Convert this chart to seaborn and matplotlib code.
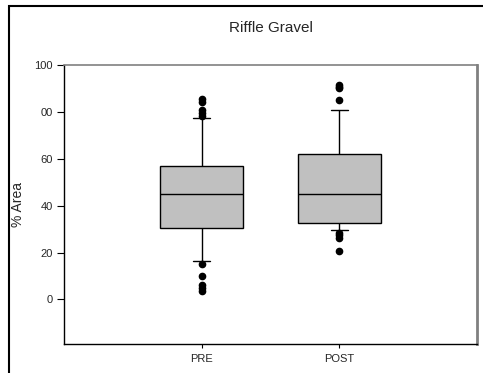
import matplotlib
matplotlib.use("Agg")
import matplotlib.pyplot as plt
import matplotlib.patches as mpatches
import seaborn as sns
import pandas as pd

categories = ["PRE", "POST"]

pre_values = [3.5, 5, 6, 9.8, 15.3, 16.2,
              18, 20, 22, 24.5, 26, 28, 30, 31,
              32, 33.5, 35, 36, 37.5, 39, 40, 41.5, 42.5, 43.5, 44.5,
              45,
              46, 47, 48, 49, 50, 51, 52, 53, 54, 55, 56, 56.5, 57.5,
              60, 63, 66, 69, 72, 75, 77.6,
              78.3, 79.4, 81, 84.3, 85.4]

post_values = [20.6, 26.2, 27.3, 28.4, 29.6,
               30, 30.8, 31.3, 31.8, 32.2, 32.6,
               34, 35.5, 37, 38.5, 40, 41, 42, 43, 44,
               45,
               46.5, 48, 50, 52, 54, 56, 58, 59.5, 61, 62.0,
               64, 67, 70, 74, 77, 80.7,
               85.1, 90.2, 90.8, 91.3]

y_ticks = [0, 20, 40, 60, 80, 100]
y_tick_labels = ["0", "20", "40", "60", "00", "100"]

df = pd.DataFrame({
    "group": [categories[0]] * len(pre_values) + [categories[1]] * len(post_values),
    "value": pre_values + post_values,
})

sns.set_style("white")
plt.rcParams["font.family"] = ["Liberation Sans", "DejaVu Sans"]

fig = plt.figure(figsize=(4.83, 3.73), dpi=100)
ax = fig.add_axes([64 / 483, 1 - 344 / 373, 413 / 483, 279 / 373])

sns.boxplot(data=df, x="group", y="value", order=categories, ax=ax,
            whis=[10, 90], width=0.6, color="#c0c0c0", saturation=1,
            linecolor="black", linewidth=1.0, capwidths=0.12,
            flierprops=dict(marker="o", markerfacecolor="black",
                            markeredgecolor="black", markersize=4.5))

ax.set_xlim(-1, 2)
ax.set_ylim(-19, 100)
ax.set_yticks(y_ticks)
ax.set_yticklabels(y_tick_labels)
ax.set_xlabel("")
ax.set_ylabel("% Area", fontsize=10)
ax.yaxis.set_label_coords(-0.094, 0.5)
ax.set_title("Riffle Gravel", fontsize=11, pad=24)

ax.tick_params(axis="y", direction="out", length=5, width=0.8, labelsize=8,
               color="black", left=True, pad=3)
ax.tick_params(axis="x", direction="out", length=3, width=0.8, labelsize=8,
               color="black", bottom=True, pad=4)

for side in ["left", "bottom"]:
    ax.spines[side].set_color("black")
    ax.spines[side].set_linewidth(1.0)
ax.spines["top"].set_color("#808080")
ax.spines["top"].set_linewidth(1.2)
ax.spines["right"].set_color("#808080")
ax.spines["right"].set_linewidth(2.0)

border = mpatches.Rectangle((9 / 483, -0.05), 1.2, 1 - 6 / 373 + 0.05,
                            transform=fig.transFigure, fill=False,
                            edgecolor="black", linewidth=1.5, clip_on=False)
fig.patches.append(border)

fig.savefig("out.png", dpi=100)
